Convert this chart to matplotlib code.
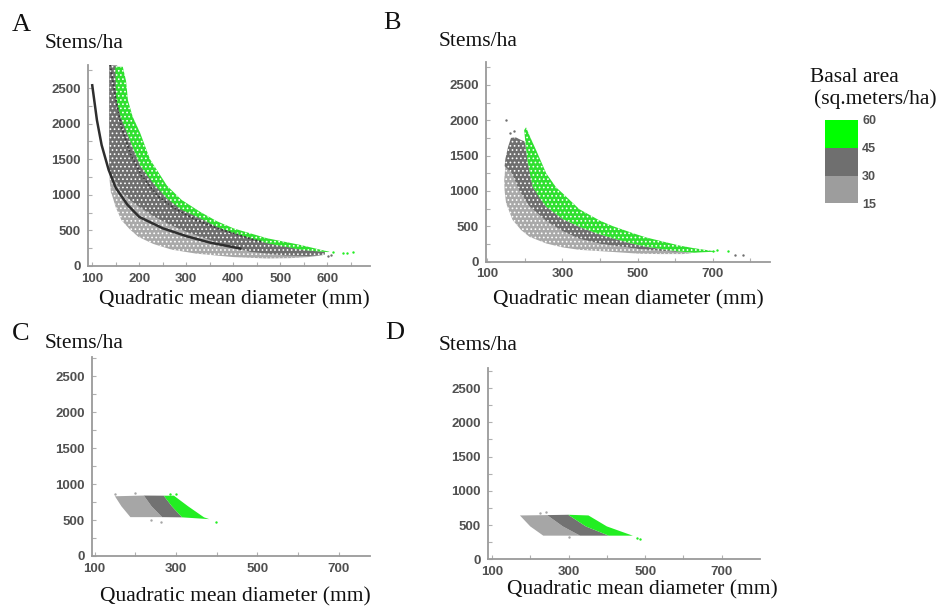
import matplotlib
matplotlib.use('Agg')
import matplotlib.pyplot as plt
from matplotlib.colors import ListedColormap, BoundaryNorm
import matplotlib.colorbar as mcolorbar

# ---------------- data ----------------
# Panel A : band outlines (D = quadratic mean diameter mm, N = stems/ha)
A_light_D = [140, 137, 137, 150, 162, 180, 198, 230, 269, 300, 340, 380, 436, 507, 560, 592,
             590, 560, 520, 472, 401, 375, 320, 269, 230, 198, 180, 162, 150, 141]
A_light_N = [1020, 1200, 1380, 1220, 1080, 960, 860, 720, 590, 500, 410, 320, 220, 165, 150, 160,
             150, 125, 110, 105, 125, 140, 175, 230, 310, 410, 515, 645, 825, 1020]
A_dark_D = [136, 150, 162, 180, 198, 230, 269, 300, 340, 380, 436, 507, 560, 595,
            595, 575, 543, 472, 401, 330, 259, 202, 174, 154, 153, 136]
A_dark_N = [1340, 1180, 1040, 930, 840, 700, 570, 480, 390, 300, 200, 150, 140, 160,
            200, 210, 235, 325, 465, 675, 950, 1410, 1870, 2340, 2820, 2820]
A_green_D = [149, 151, 160, 174, 202, 230, 259, 290, 330, 365, 401, 472, 543, 575, 602,
             605, 585, 543, 472, 401, 365, 330, 290, 259, 223, 202, 186, 176, 172, 165]
A_green_N = [2800, 2340, 2100, 1870, 1410, 1160, 950, 790, 670, 550, 460, 320, 230, 208, 195,
             200, 230, 296, 390, 528, 630, 760, 930, 1130, 1500, 1870, 2100, 2330, 2600, 2800]
A_line_D = [100, 110, 120, 135, 150, 175, 200, 250, 300, 350, 415]
A_line_N = [2540, 2050, 1700, 1350, 1100, 860, 690, 530, 420, 330, 245]
A_dot_D = [138, 150, 162, 180, 205, 240, 276, 320, 368, 410, 443, 462]
A_dot_N = [2830, 2350, 1960, 1600, 1268, 980, 806, 650, 525, 440, 370, 340]
A_stray_green_D = [613, 634, 642, 655]
A_stray_green_N = [200, 186, 186, 192]
A_stray_gray_D = [602, 608]
A_stray_gray_N = [140, 150]

# Panel B
B_light_D = [146, 145, 148, 165, 185, 212, 257, 300, 345, 400, 434, 505, 560, 620, 645,
             640, 620, 560, 505, 434, 345, 300, 257, 212, 190, 167, 150]
B_light_N = [1000, 1150, 1350, 1250, 1000, 780, 570, 430, 320, 250, 225, 175, 150, 130, 125,
             115, 105, 105, 110, 135, 165, 200, 255, 350, 445, 590, 825]
B_dark_D = [146, 165, 185, 212, 257, 300, 345, 400, 434, 505, 560, 620, 660,
            650, 612, 570, 523, 480, 434, 390, 345, 301, 257, 221, 207, 200, 190, 175, 163, 155, 148]
B_dark_N = [1350, 1250, 1000, 780, 570, 430, 320, 250, 225, 175, 150, 130, 128,
            125, 140, 170, 209, 260, 328, 400, 492, 600, 774, 1056, 1430, 1700, 1720, 1760, 1750, 1620, 1450]
B_green_D = [198, 203, 207, 215, 221, 239, 257, 301, 345, 390, 434, 480, 523, 570, 612, 650,
             710, 692, 648, 612, 577, 523, 488, 434, 399, 345, 301, 283, 257, 230, 215, 203]
B_green_N = [1860, 1600, 1430, 1200, 1056, 900, 774, 600, 492, 400, 328, 260, 209, 170, 140, 125,
             140, 155, 190, 225, 270, 340, 400, 500, 580, 740, 963, 1050, 1246, 1575, 1750, 1900]
B_stray_green_D = [701, 712, 741]
B_stray_green_N = [150, 160, 145]
B_stray_gray_D = [150, 759, 781, 160, 172]
B_stray_gray_N = [2000, 99, 85, 1820, 1850]

# Panel C  (parallelogram-like bands)
C_light_D = [150, 221, 240, 266, 188, 166]
C_light_N = [830, 840, 690, 540, 540, 690]
C_dark_D = [221, 270, 290, 315, 266, 240]
C_dark_N = [840, 838, 690, 537, 540, 690]
C_green_D = [270, 295, 330, 369, 382, 315, 290]
C_green_N = [838, 838, 690, 537, 512, 537, 690]
C_stray_green_D = [398, 285, 300]
C_stray_green_N = [470, 860, 855]
C_stray_gray_D = [150, 200, 262, 238]
C_stray_gray_N = [860, 870, 470, 500]

# Panel D
D_light_D = [173, 244, 285, 330, 234, 200]
D_light_N = [640, 645, 480, 345, 345, 480]
D_dark_D = [244, 299, 345, 405, 330, 285]
D_dark_N = [645, 650, 480, 345, 345, 480]
D_green_D = [299, 352, 400, 455, 468, 405, 345]
D_green_N = [650, 640, 480, 370, 345, 345, 480]
D_stray_green_D = [486, 480]
D_stray_green_N = [300, 310]
D_stray_gray_D = [240, 225, 300]
D_stray_gray_N = [690, 670, 320]

# legend
legend_bounds = [15, 30, 45, 60]

# ---------------- style ----------------
W, H = 941, 612
fig = plt.figure(figsize=(W / 100, H / 100), dpi=100)
plt.rcParams['hatch.linewidth'] = 0.7

SERIF = 'Liberation Serif'
SANS = 'Liberation Sans'
LIGHT = '#a9a9a9'
DARK = '#6e6e6e'
GREEN = '#2fe02f'
LIGHT2 = '#a6a6a6'
DARK2 = '#727272'
GREEN2 = '#22ee22'
TICKC = '#505050'
SPINEC = '#9a9a9a'


def ax_at(l, t, r, b):
    return fig.add_axes([l / W, 1 - b / H, (r - l) / W, (b - t) / H])


def style(ax, xlim, ylim, xticks, xminor):
    ax.set_xlim(*xlim)
    ax.set_ylim(*ylim)
    for s in ['top', 'right']:
        ax.spines[s].set_visible(False)
    for s in ['left', 'bottom']:
        ax.spines[s].set_color(SPINEC)
        ax.spines[s].set_linewidth(1.3)
    ax.set_xticks(xticks)
    ax.set_xticks(xminor, minor=True)
    ax.set_yticks([0, 500, 1000, 1500, 2000, 2500])
    ax.set_yticks([250, 750, 1250, 1750, 2250, 2750], minor=True)
    ax.tick_params(which='both', direction='in', color='#b0b0b0', length=3, width=0.8)
    ax.tick_params(axis='both', which='major', labelsize=9.5, labelcolor=TICKC, pad=5)
    for lab in ax.get_xticklabels() + ax.get_yticklabels():
        lab.set_fontfamily(SANS)
        lab.set_fontweight('bold')
    ax.patch.set_alpha(0)


def bands(ax, light, dark, green, cols, speckle):
    for (d, n), c in zip([light, dark, green], cols):
        if speckle:
            ax.fill(d, n, facecolor=c, edgecolor='white', hatch='....', lw=0, zorder=2)
        else:
            ax.fill(d, n, color=c, lw=0, zorder=2)


# Panel A
axA = ax_at(88, 65, 370, 266)
bands(axA, (A_light_D, A_light_N), (A_dark_D, A_dark_N), (A_green_D, A_green_N),
      [LIGHT, DARK, GREEN], True)
axA.plot(A_line_D, A_line_N, color='#2e2e2e', lw=1.8, zorder=4)
axA.plot(A_dot_D, A_dot_N, color='#3a3a3a', lw=1.3, ls=(0, (1, 1.2)), zorder=4)
axA.scatter(A_stray_green_D, A_stray_green_N, s=3, color=GREEN2, lw=0, zorder=3)
axA.scatter(A_stray_gray_D, A_stray_gray_N, s=3, color=DARK, lw=0, zorder=3)
style(axA, (91, 691), (0, 2825), [100, 200, 300, 400, 500, 600], [150, 250, 350, 450, 550, 650])

# Panel B
axB = ax_at(486, 62, 770, 261.5)
bands(axB, (B_light_D, B_light_N), (B_dark_D, B_dark_N), (B_green_D, B_green_N),
      [LIGHT, DARK, GREEN], True)
axB.scatter(B_stray_green_D, B_stray_green_N, s=3, color=GREEN2, lw=0, zorder=3)
axB.scatter(B_stray_gray_D, B_stray_gray_N, s=3, color=DARK, lw=0, zorder=3)
style(axB, (96.5, 852), (0, 2825), [100, 300, 500, 700], [200, 400, 600, 800])

# Panel C
axC = ax_at(92, 357, 370, 556)
bands(axC, (C_light_D, C_light_N), (C_dark_D, C_dark_N), (C_green_D, C_green_N),
      [LIGHT2, DARK2, GREEN2], False)
axC.scatter(C_stray_green_D, C_stray_green_N, s=3, color=GREEN2, lw=0, zorder=3)
axC.scatter(C_stray_gray_D, C_stray_gray_N, s=3, color=LIGHT2, lw=0, zorder=3)
style(axC, (93.6, 777), (0, 2765), [100, 300, 500, 700], [200, 400, 600])

# Panel D
axD = ax_at(488, 368, 760, 559.3)
bands(axD, (D_light_D, D_light_N), (D_dark_D, D_dark_N), (D_green_D, D_green_N),
      [LIGHT2, DARK2, GREEN2], False)
axD.scatter(D_stray_green_D, D_stray_green_N, s=3, color=GREEN2, lw=0, zorder=3)
axD.scatter(D_stray_gray_D, D_stray_gray_N, s=3, color=LIGHT2, lw=0, zorder=3)
style(axD, (89.6, 800), (0, 2792), [100, 300, 500, 700], [200, 400, 600])

# ---------------- texts ----------------
def ftext(x, y, s, size, ha='left', va='center', **kw):
    fig.text(x / W, 1 - y / H, s, fontsize=size, ha=ha, va=va, family=SERIF, color='#111111', **kw)

ftext(12, 25, 'A', 19)
ftext(383, 23, 'B', 19)
ftext(12, 334, 'C', 19)
ftext(385, 333, 'D', 19)
ftext(45, 44, 'Stems/ha', 15.5)
ftext(439, 42, 'Stems/ha', 15.5)
ftext(45, 343, 'Stems/ha', 15.5)
ftext(439, 345, 'Stems/ha', 15.5)
ftext(234, 300, 'Quadratic mean diameter (mm)', 15.5, ha='center')
ftext(628, 300, 'Quadratic mean diameter (mm)', 15.5, ha='center')
ftext(235, 597, 'Quadratic mean diameter (mm)', 15.5, ha='center')
ftext(642, 590, 'Quadratic mean diameter (mm)', 15.5, ha='center')
ftext(810, 77, 'Basal area', 15.5)
ftext(814, 99, '(sq.meters/ha)', 15.5)

# legend colour bar
cax = ax_at(825, 120, 858, 203.5)
cmap = ListedColormap(['#9d9d9d', '#6f6f6f', '#00ff00'])
norm = BoundaryNorm(legend_bounds, cmap.N)
cb = mcolorbar.ColorbarBase(cax, cmap=cmap, norm=norm, ticks=legend_bounds, orientation='vertical')
cb.outline.set_visible(False)
cax.tick_params(length=0, labelsize=9, pad=3, labelcolor=TICKC)
for lab in cax.get_yticklabels():
    lab.set_fontfamily(SANS)
    lab.set_fontweight('bold')

fig.savefig('out.png', dpi=100)
